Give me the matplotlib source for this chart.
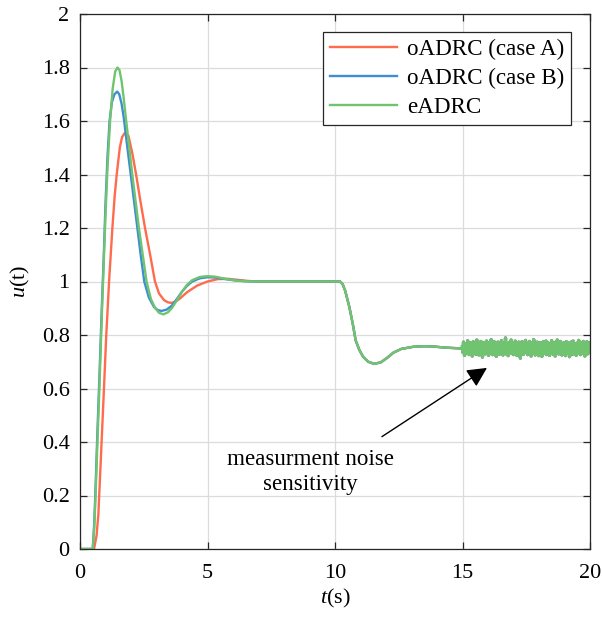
import numpy as np
import matplotlib
matplotlib.use("Agg")
import matplotlib.pyplot as plt

plt.rcParams['font.family'] = ['Liberation Serif', 'DejaVu Serif']
plt.rcParams['mathtext.fontset'] = 'custom'
plt.rcParams['mathtext.rm'] = 'Liberation Serif'
plt.rcParams['mathtext.it'] = 'Liberation Serif:italic'

# ---- data ----
series_names = ["oADRC (case A)", "oADRC (case B)", "eADRC"]
series_colors = ["#FF6B4D", "#3D8FCF", "#70C470"]

t_red = [0, 0.55, 0.65, 0.72, 0.8, 0.87, 0.94, 1.03, 1.14, 1.27, 1.36, 1.44, 1.56,
         1.65, 1.77, 1.9, 2.05, 2.2, 2.37, 2.55, 2.75, 2.94, 3.1, 3.3, 3.45, 3.6,
         3.75, 3.9, 4.2, 4.6, 5.0, 5.4, 5.8, 6.2, 6.6, 7.0]
u_red = [0, 0, 0.05, 0.13, 0.3, 0.45, 0.6, 0.8, 1.0, 1.2, 1.32, 1.4, 1.5,
         1.54, 1.557, 1.545, 1.48, 1.40, 1.30, 1.20, 1.10, 1.00, 0.955, 0.93, 0.922, 0.92,
         0.925, 0.935, 0.96, 0.985, 1.0, 1.009, 1.01, 1.006, 1.002, 1.0]

t_blue = [0, 0.5, 0.56, 0.61, 0.68, 0.76, 0.85, 0.93, 1.0, 1.08, 1.16, 1.25, 1.35,
          1.46, 1.54, 1.63, 1.72, 1.82, 1.99, 2.12, 2.25, 2.38, 2.52, 2.7, 2.9, 3.05,
          3.2, 3.4, 3.6, 3.8, 4.0, 4.2, 4.4, 4.7, 5.0, 5.3, 5.7, 6.1, 6.5, 7.0]
u_blue = [0, 0, 0.1, 0.23, 0.43, 0.64, 0.89, 1.09, 1.29, 1.47, 1.6, 1.67, 1.70,
          1.71, 1.70, 1.665, 1.61, 1.53, 1.40, 1.30, 1.20, 1.10, 1.00, 0.94, 0.905, 0.893,
          0.89, 0.895, 0.91, 0.935, 0.962, 0.984, 1.0, 1.012, 1.016, 1.015, 1.009, 1.004, 1.001, 1.0]

t_green = [0, 0.5, 0.56, 0.61, 0.68, 0.76, 0.85, 0.93, 1.0, 1.08, 1.18, 1.28, 1.38,
           1.47, 1.55, 1.63, 1.72, 1.80, 1.92, 2.05, 2.18, 2.31, 2.46, 2.61, 2.78, 2.95,
           3.1, 3.27, 3.45, 3.6, 3.8, 4.0, 4.2, 4.4, 4.7, 5.0, 5.3, 5.7, 6.1, 6.5, 7.0]
u_green = [0, 0, 0.08, 0.2, 0.39, 0.6, 0.856, 1.07, 1.25, 1.43, 1.6, 1.72, 1.785,
           1.80, 1.79, 1.75, 1.68, 1.61, 1.51, 1.40, 1.30, 1.20, 1.10, 1.00, 0.935, 0.90,
           0.883, 0.877, 0.885, 0.90, 0.93, 0.962, 0.988, 1.005, 1.017, 1.02, 1.018, 1.01, 1.004, 1.001, 1.0]

# common part after the responses have merged (load step near t = 10.2 s)
t_tail = [8.0, 9.0, 10.2, 10.3, 10.4, 10.56, 10.7, 10.81, 10.95, 11.1, 11.3, 11.54,
          11.8, 12.05, 12.29, 12.6, 13.07, 13.5, 13.86, 14.3, 14.9, 15.0]
u_tail = [1.0, 1.0, 1.0, 0.99, 0.965, 0.906, 0.84, 0.78, 0.745, 0.719, 0.70, 0.692,
          0.698, 0.715, 0.734, 0.748, 0.756, 0.758, 0.757, 0.753, 0.75, 0.75]

# measurement-noise segment 15 s .. 20 s : level and deviations (units of 1.3e-3)
noise_level = 0.75
noise_unit = 1.3e-3
noise_dev = [
    5, -12, 18, -3, -20, 9, 14, -8, 2, -15, 22, -6, 11, -18, 4, 16, -10, -2, 13, -22, 7, 19, -14, 1, -9,
    12, -17, 6, 24, -11, -4, 15, -19, 8, 3, -13, 20, -7, 10, -25, 14, -1, 17, -12, 5, -16, 9, 21, -8, -3,
    11, -20, 16, -6, 2, -14, 25, -10, 7, -18, 13, -2, 19, -15, 4, 8, -23, 12, -5, 18, -9, 1, -17, 14, 6,
    -12, 22, -7, 10, -19, 3, 15, -11, -4, 30, -16, 9, -1, 13, -21, 7, 17, -13, 2, -8, 24, -14, 5, 11, -18,
    16, -3, -10, 21, -6, 12, -20, 8, -15, 4, 18, -9, 14, -28, 6, -2, 19, -12, 10, -17, 3, 13, -7, 23, -11,
    -5, 15, -18, 9, 1, -14, 20, -8, 12, -22, 7, 16, -4, -13, 25, -10, 5, -19, 11, 2, -16, 18, -6, 8, -21,
    14, -1, 17, -12, 6, -23, 10, -7, 19, -15, 3, 13, -9, 21, -18, 4, -3, 16, -11, 9, -20, 12, 1, -14, 22,
    -8, 7, -17, 15, -5, 11, -22, 18, -2, -12, 24, -9, 6, -16, 13, -4, 20, -13, 8, -19, 2, 14, -10, 17, -6,
    10, -21, 5, 19, -14, -1, 16, -11, 9, -24, 13, -3, 18, -8, 4, -17, 21, -12, 7, 1, -15, 11, -20, 15, -5,
    8, -13, 23, -9, 3, -18, 12, -6, 17, -2, -15, 20, -10, 6, -22, 14, 2, -11, 19, -16, 5, 10, -7, 16, -12,
]

x_ticks = [0, 5, 10, 15, 20]
y_ticks = [0, 0.2, 0.4, 0.6, 0.8, 1, 1.2, 1.4, 1.6, 1.8, 2]
y_ticklabels = ["0", "0.2", "0.4", "0.6", "0.8", "1", "1.2", "1.4", "1.6", "1.8", "2"]
annotation_text = "measurment noise\nsensitivity"

# ---- build the plotted series ----
t_noise = np.linspace(15.0, 20.0, len(noise_dev))
u_noise = noise_level + np.array(noise_dev) * noise_unit

heads = [(t_red, u_red), (t_blue, u_blue), (t_green, u_green)]

fig = plt.figure(figsize=(6.02, 6.17), dpi=100)
ax = fig.add_axes([80 / 602, 68 / 617, 510 / 602, 535 / 617])

for (th, uh), name, col in zip(heads, series_names, series_colors):
    ax.plot(np.concatenate([th, t_tail]), np.concatenate([uh, u_tail]),
            color=col, lw=1.7, label=name, solid_joinstyle='round')
    ax.plot(t_noise, u_noise, color=col, lw=2.3, solid_joinstyle='round')

ax.set_xlim(0, 20)
ax.set_ylim(0, 2)
ax.set_xticks(x_ticks)
ax.set_yticks(y_ticks)
ax.set_yticklabels(y_ticklabels)
ax.grid(True, color='#DCDCDC', lw=0.9)
ax.set_axisbelow(True)
ax.tick_params(direction='in', length=5, width=0.9, top=True, right=True,
               labelsize=16, colors='#262626')
ax.tick_params(axis='x', pad=11)
ax.tick_params(axis='y', pad=7.5)
for lab in ax.get_xticklabels() + ax.get_yticklabels():
    lab.set_color('black')
for s in ax.spines.values():
    s.set_color('#262626')
    s.set_linewidth(0.9)

ax.set_xlabel(r'$t$(s)', fontsize=16, labelpad=3)
ax.set_ylabel(r'$u$(t)', fontsize=16, labelpad=7)

leg = ax.legend(loc='upper right', bbox_to_anchor=(0.963, 0.966), fontsize=16.6,
                handlelength=2.9, handletextpad=0.45, borderpad=0.3, labelspacing=0.33,
                fancybox=False, framealpha=1, edgecolor='#262626', borderaxespad=0)
leg.get_frame().set_linewidth(0.9)

ax.annotate('', xy=(15.96, 0.677), xytext=(11.84, 0.42),
            arrowprops=dict(arrowstyle='-|>', color='black', lw=1.0, mutation_scale=30,
                            shrinkA=0, shrinkB=0))
ax.text(9.02, 0.288, annotation_text, ha='center', va='center', fontsize=16.6,
        linespacing=1.3)

fig.savefig('out.png', dpi=100)
